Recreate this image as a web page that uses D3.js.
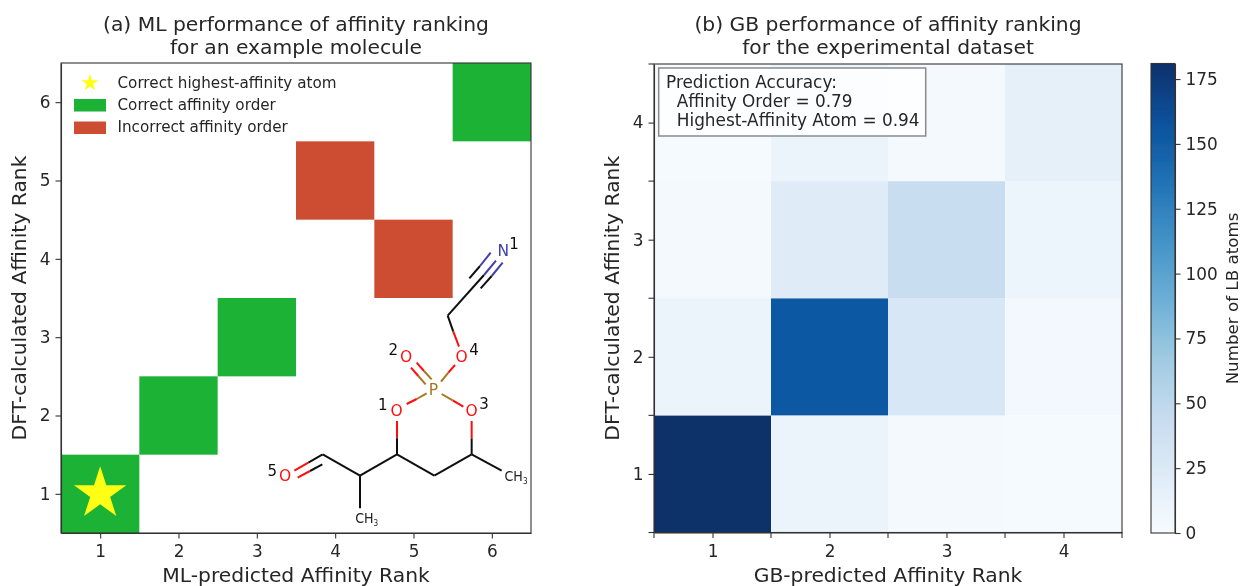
<!DOCTYPE html>
<html>
<head>
<meta charset="utf-8">
<script src="https://cdn.jsdelivr.net/npm/d3@7"></script>
<style>
body { margin: 0; background: #fff; }
text { font-family: "DejaVu Sans", sans-serif; fill: #262626; }
.axis path, .axis line { stroke: #333; stroke-width: 1.1; }
.axis text { font-size: 16.9px; fill: #262626; font-family: "DejaVu Sans", sans-serif; }
</style>
</head>
<body>
<svg id="chart" width="1242" height="586">
    <defs><filter id="soft" x="0" y="0" width="100%" height="100%"><feGaussianBlur stdDeviation="0.45"/></filter></defs>
</svg>
<script>
'use strict';
// (a) example molecule, [predicted rank, calculated rank]
const mlPairs = [[1, 1], [2, 2], [3, 3], [5, 4], [4, 5], [6, 6]];
const mlCorrect = [true, true, true, false, false, true];
const mlRanks = [1, 2, 3, 4, 5, 6];
const legendLabels = ['Correct highest-affinity atom', 'Correct affinity order', 'Incorrect affinity order'];

// (b) experimental dataset, rows are calculated rank 1..4
const gbRanks = [1, 2, 3, 4];
const gbCounts = [
    [181, 11, 3, 2],
    [10, 153, 28, 4],
    [3, 22, 42, 9],
    [2, 10, 3, 16]
];
const cbarTicks = [0, 25, 50, 75, 100, 125, 150, 175];
const cbarMax = 181;
const accuracyLines = ['Prediction Accuracy:', '  Affinity Order = 0.79', '  Highest-Affinity Atom = 0.94'];

// molecule drawing, in its own 840x960 frame: x1, y1, x2, y2, colour
const BLK = '#111', RED = '#ff0d0d', BRN = '#a8771f', BLU = '#3f3fb0';
const molBonds = [
    [563, 287, 672, 165, BLK], [672, 165, 708, 122, BLU],
    [628, 175, 660, 138, BLK], [660, 138, 692, 98, BLU],
    [662, 205, 695, 168, BLK], [695, 168, 728, 128, BLU],
    [563, 287, 580, 335, BLK], [580, 335, 597, 380, RED],
    [585, 435, 565, 458, RED], [565, 458, 543, 485, BRN],
    [515, 478, 492, 453, BRN], [492, 453, 470, 428, RED],
    [497, 493, 475, 468, BRN], [475, 468, 453, 443, RED],
    [500, 520, 470, 537, BRN], [470, 537, 440, 552, RED],
    [545, 522, 578, 541, BRN], [578, 541, 610, 560, RED],
    [411, 603, 411, 655, RED], [411, 655, 411, 703, BLK],
    [635, 603, 635, 655, RED], [635, 655, 635, 703, BLK],
    [411, 703, 523, 767, BLK], [523, 767, 635, 703, BLK],
    [635, 703, 725, 752, BLK], [411, 703, 300, 767, BLK],
    [300, 767, 300, 865, BLK], [300, 767, 188, 703, BLK],
    [188, 703, 145, 728, BLK], [145, 728, 103, 752, RED],
    [187, 733, 150, 753, BLK], [150, 753, 113, 773, RED]
];
// label, x, y, colour, size
const molLabels = [
    ['N', 730, 90, BLU, 15.5], ['P', 520, 507, BRN, 15.5],
    ['O', 605, 408, RED, 15.5], ['O', 438, 408, RED, 15.5],
    ['O', 410, 572, RED, 15.5], ['O', 635, 572, RED, 15.5], ['O', 75, 767, RED, 15.5],
    ['1', 762, 70, '#111', 15], ['4', 642, 388, '#111', 15], ['2', 400, 388, '#111', 15],
    ['1', 368, 555, '#111', 15], ['3', 672, 552, '#111', 15], ['5', 37, 752, '#111', 15]
];

const svg = d3.select('#chart');
const root = svg.append('g').attr('filter', 'url(#soft)');

root.append('rect').attr('width', 1242).attr('height', 586).attr('fill', '#fff');

const star = d3.symbol().type(d3.symbolStar);
function starPath(outerR)
{
    // d3 star area -> outer radius ratio
    const size = d3.symbol().type(d3.symbolStar).size(1000)();
    const r0 = Math.abs(+size.split(',')[1].split('L')[0]);
    return star.size(1000 * (outerR / r0) * (outerR / r0))();
}

function addAxes(g, x, y, xTicks, yTicks, xLabel, yLabel, title, yLabelX)
{
    const [l, r] = x.range();
    const [b, t] = y.range();
    g.append('g').attr('class', 'axis').attr('transform', `translate(0,${b})`)
        .call(d3.axisBottom(x).tickValues(xTicks).tickFormat(d3.format('d')).tickSize(5.5).tickSizeOuter(0).tickPadding(7));
    g.append('g').attr('class', 'axis').attr('transform', `translate(${l},0)`)
        .call(d3.axisLeft(y).tickValues(yTicks).tickFormat(d3.format('d')).tickSize(5.5).tickSizeOuter(0).tickPadding(5));
    g.append('rect').attr('x', l).attr('y', t).attr('width', r - l).attr('height', b - t)
        .attr('fill', 'none').attr('stroke', '#333').attr('stroke-width', 1.1);
    g.append('text').attr('x', (l + r) / 2).attr('y', 582).attr('text-anchor', 'middle')
        .attr('font-size', 20.3).text(xLabel);
    g.append('text').attr('transform', `translate(${yLabelX},${(t + b) / 2}) rotate(-90)`)
        .attr('text-anchor', 'middle').attr('font-size', 20.3).text(yLabel);
    title.forEach((s, i) => {
        g.append('text').attr('x', (l + r) / 2).attr('y', 31 + i * 22.7).attr('text-anchor', 'middle')
            .attr('font-size', 20.3).text(s);
    });
}

// panel (a)
const ax = root.append('g');
const x1 = d3.scaleLinear().domain([0.5, 6.5]).range([61, 531]);
const y1 = d3.scaleLinear().domain([0.5, 6.5]).range([533, 63]);

ax.selectAll('rect.cell').data(mlPairs).enter().append('rect')
    .attr('class', 'cell')
    .attr('x', (d) => x1(d[0] - 0.5))
    .attr('y', (d) => y1(d[1] + 0.5))
    .attr('width', (d) => x1(d[0] + 0.5) - x1(d[0] - 0.5))
    .attr('height', (d) => y1(d[1] - 0.5) - y1(d[1] + 0.5))
    .attr('fill', (d, i) => (mlCorrect[i] ? '#1ab234' : '#cd4d33'));

ax.append('path').attr('d', starPath(27.5))
    .attr('transform', `translate(${x1(1)},${y1(1)})`)
    .attr('fill', '#ffff14');

// molecule
const molX = d3.scaleLinear().domain([0, 840]).range([260, 540]);
const molY = d3.scaleLinear().domain([0, 960]).range([220, 540]);
const mol = ax.append('g');
mol.selectAll('line').data(molBonds).enter().append('line')
    .attr('x1', (d) => molX(d[0]))
    .attr('y1', (d) => molY(d[1]))
    .attr('x2', (d) => molX(d[2]))
    .attr('y2', (d) => molY(d[3]))
    .attr('stroke', (d) => d[4])
    .attr('stroke-width', 2);
mol.selectAll('text.atom').data(molLabels).enter().append('text')
    .attr('class', 'atom')
    .attr('x', (d) => molX(d[1]))
    .attr('y', (d) => molY(d[2]))
    .attr('dy', '0.36em')
    .attr('text-anchor', 'middle')
    .attr('font-size', (d) => d[4])
    .style('fill', (d) => d[3])
    .text((d) => d[0]);
// CH3 groups with small subscript
[[768, 768], [320, 895]].forEach((p) => {
    const t = mol.append('text').attr('x', molX(p[0])).attr('y', molY(p[1])).attr('dy', '0.36em')
        .attr('text-anchor', 'middle').attr('font-size', 14).style('fill', '#222').attr('textLength', 23).attr('lengthAdjust', 'spacingAndGlyphs');
    t.append('tspan').text('CH');
    t.append('tspan').attr('font-size', 8).attr('dy', 3).text('3');
});

// legend
ax.append('path').attr('d', starPath(9)).attr('transform', 'translate(90,83)').attr('fill', '#ffff14');
ax.append('rect').attr('x', 74).attr('y', 99).attr('width', 32).attr('height', 12.5).attr('fill', '#1ab234');
ax.append('rect').attr('x', 74).attr('y', 121.5).attr('width', 32).attr('height', 12.5).attr('fill', '#cd4d33');
ax.selectAll('text.leg').data(legendLabels).enter().append('text')
    .attr('class', 'leg')
    .attr('x', 117.5)
    .attr('y', (d, i) => 88 + i * 22)
    .attr('font-size', 15.2)
    .text((d) => d);

addAxes(ax, x1, y1, mlRanks, mlRanks, 'ML-predicted Affinity Rank', 'DFT-calculated Affinity Rank',
    ['(a) ML performance of affinity ranking', 'for an example molecule'], 26);

// panel (b)
const bx = root.append('g');
const x2 = d3.scaleLinear().domain([0.5, 4.5]).range([654, 1122]);
const y2 = d3.scaleLinear().domain([0.5, 4.5]).range([532.5, 64]);
const blues = d3.piecewise(d3.interpolateRgb, d3.schemeBlues[9]);
const color = d3.scaleSequential(blues).domain([0, cbarMax]);

gbCounts.forEach((row, r) => {
    bx.selectAll('rect.r' + r).data(row).enter().append('rect')
        .attr('class', 'r' + r)
        .attr('x', (d, c) => x2(gbRanks[c] - 0.5))
        .attr('y', y2(gbRanks[r] + 0.5))
        .attr('width', x2(2) - x2(1))
        .attr('height', y2(1) - y2(2))
        .attr('fill', (d) => color(d));
});

// ticks at both the centres and the cell edges
const gbTicks = d3.range(0.5, 4.75, 0.5);
addAxes(bx, x2, y2, gbRanks, gbRanks, 'GB-predicted Affinity Rank', 'DFT-calculated Affinity Rank',
    ['(b) GB performance of affinity ranking', 'for the experimental dataset'], 619);
const edgeTicks = gbTicks.filter((d) => !gbRanks.includes(d));
bx.selectAll('line.ex').data(edgeTicks).enter().append('line').attr('class', 'ex')
    .attr('x1', (d) => x2(d)).attr('x2', (d) => x2(d))
    .attr('y1', y2(0.5)).attr('y2', y2(0.5) + 5.5)
    .attr('stroke', '#333').attr('stroke-width', 1.1);
bx.selectAll('line.ey').data(edgeTicks).enter().append('line').attr('class', 'ey')
    .attr('y1', (d) => y2(d)).attr('y2', (d) => y2(d))
    .attr('x1', x2(0.5)).attr('x2', x2(0.5) - 5.5)
    .attr('stroke', '#333').attr('stroke-width', 1.1);

// accuracy box
bx.append('rect').attr('x', 658.7).attr('y', 68).attr('width', 267).attr('height', 68)
    .attr('fill', '#fff').attr('fill-opacity', 0.8)
    .attr('stroke', '#8a8a8a').attr('stroke-width', 1.5);
bx.selectAll('text.acc').data(accuracyLines).enter().append('text')
    .attr('class', 'acc')
    .attr('x', 666)
    .attr('y', (d, i) => 88 + i * 19)
    .attr('font-size', 16.9)
    .style('white-space', 'pre')
    .text((d) => d);

// colorbar, gradient stops come from the same colour scale
const cb = root.append('g');
const yc = d3.scaleLinear().domain([0, cbarMax]).range([533, 63.5]);
const grad = svg.select('defs').append('linearGradient').attr('id', 'cbar')
    .attr('x1', 0).attr('y1', 1).attr('x2', 0).attr('y2', 0);
grad.selectAll('stop').data(d3.range(0, cbarMax + 1, cbarMax / 32)).enter().append('stop')
    .attr('offset', (d) => d / cbarMax)
    .attr('stop-color', (d) => color(d));
cb.append('rect').attr('x', 1151).attr('y', yc(cbarMax)).attr('width', 24)
    .attr('height', yc(0) - yc(cbarMax)).attr('fill', 'url(#cbar)');
cb.append('g').attr('class', 'axis').attr('transform', 'translate(1175,0)')
    .call(d3.axisRight(yc).tickValues(cbarTicks).tickSize(5.5).tickSizeOuter(0).tickPadding(5));
cb.append('rect').attr('x', 1151).attr('y', 63.5).attr('width', 24).attr('height', 469.5)
    .attr('fill', 'none').attr('stroke', '#333').attr('stroke-width', 1.1);
cb.append('text').attr('transform', 'translate(1238,298.5) rotate(-90)')
    .attr('text-anchor', 'middle').attr('font-size', 16.7).text('Number of LB atoms');
</script>
</body>
</html>
